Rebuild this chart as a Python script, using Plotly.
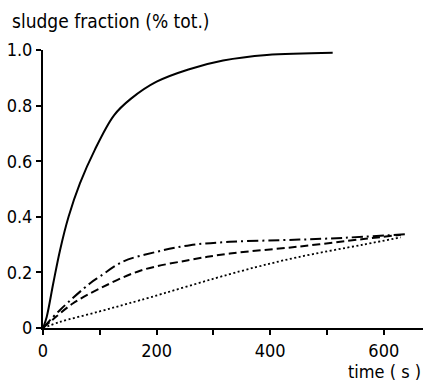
import plotly.graph_objects as go

# solid curve
t_solid = [0, 6.5, 18, 30, 45, 65, 91, 125, 155, 200, 256, 317, 394, 510]
y_solid = [0, 0.04, 0.16, 0.28, 0.40, 0.52, 0.64, 0.765, 0.825, 0.886, 0.93, 0.962, 0.982, 0.99]

# dash-dot curve
t_dashdot = [0, 30, 83, 100, 141, 200, 259, 329, 420, 505, 637]
y_dashdot = [0, 0.065, 0.161, 0.185, 0.239, 0.274, 0.298, 0.31, 0.316, 0.322, 0.337]

# dashed curve
t_dashed = [0, 17, 53, 100, 171, 259, 329, 447, 564, 630]
y_dashed = [0, 0.03, 0.089, 0.142, 0.206, 0.245, 0.268, 0.292, 0.32, 0.335]

# dotted curve
t_dotted = [0, 30, 100, 171, 347, 447, 564, 630]
y_dotted = [0, 0.022, 0.06, 0.1, 0.204, 0.254, 0.3, 0.326]

x_ticks = [0, 100, 200, 300, 400, 500, 600]
x_ticktext = ["0", "", "200", "", "400", "", "600"]
y_ticks = [0, 0.2, 0.4, 0.6, 0.8, 1.0]
y_ticktext = ["0", "0.2", "0.4", "0.6", "0.8", "1.0"]

FONT = "Liberation Sans Narrow, DejaVu Sans Condensed, Arial Narrow, sans-serif"

fig = go.Figure()
common = dict(mode="lines", line_shape="spline", showlegend=False, hoverinfo="skip")
fig.add_trace(go.Scatter(x=t_solid, y=y_solid, line=dict(color="black", width=2), **common))
fig.add_trace(go.Scatter(x=t_dashdot, y=y_dashdot, line=dict(color="black", width=2, dash="11px,4px,2px,4px"), **common))
fig.add_trace(go.Scatter(x=t_dashed, y=y_dashed, line=dict(color="black", width=2, dash="8px,4px"), **common))
fig.add_trace(go.Scatter(x=t_dotted, y=y_dotted, line=dict(color="black", width=1.8, dash="2px,2.5px"), **common))

W, H = 427, 384
L, R, T, B = 43, 4, 50, 56
fig.update_layout(
    width=W, height=H,
    margin=dict(l=L, r=R, t=T, b=B),
    paper_bgcolor="white", plot_bgcolor="white",
    font=dict(family=FONT, size=18, color="black"),
    xaxis=dict(range=[0, 669], tickvals=x_ticks, ticktext=x_ticktext,
               showline=True, linewidth=2, linecolor="black", showgrid=False, zeroline=False,
               ticks="outside", ticklen=5, tickwidth=1.5, tickcolor="black", fixedrange=True),
    yaxis=dict(range=[0, 1.0], tickvals=y_ticks, ticktext=y_ticktext,
               showline=True, linewidth=2, linecolor="black", showgrid=False, zeroline=False,
               ticks="outside", ticklen=5, tickwidth=1.5, tickcolor="black", fixedrange=True),
    annotations=[
        dict(text="sludge fraction (% tot.)", xref="paper", yref="paper",
             x=(10 - L) / (W - L - R), y=(H - B - 21) / (H - T - B), xanchor="left", yanchor="middle",
             showarrow=False, font=dict(family=FONT, size=19, color="black")),
        dict(text="time ( s )", xref="paper", yref="paper",
             x=1.0, y=-(371 - (H - B)) / (H - T - B), xanchor="right", yanchor="middle",
             showarrow=False, font=dict(family=FONT, size=18, color="black")),
    ],
)
fig.write_html("out.html")
